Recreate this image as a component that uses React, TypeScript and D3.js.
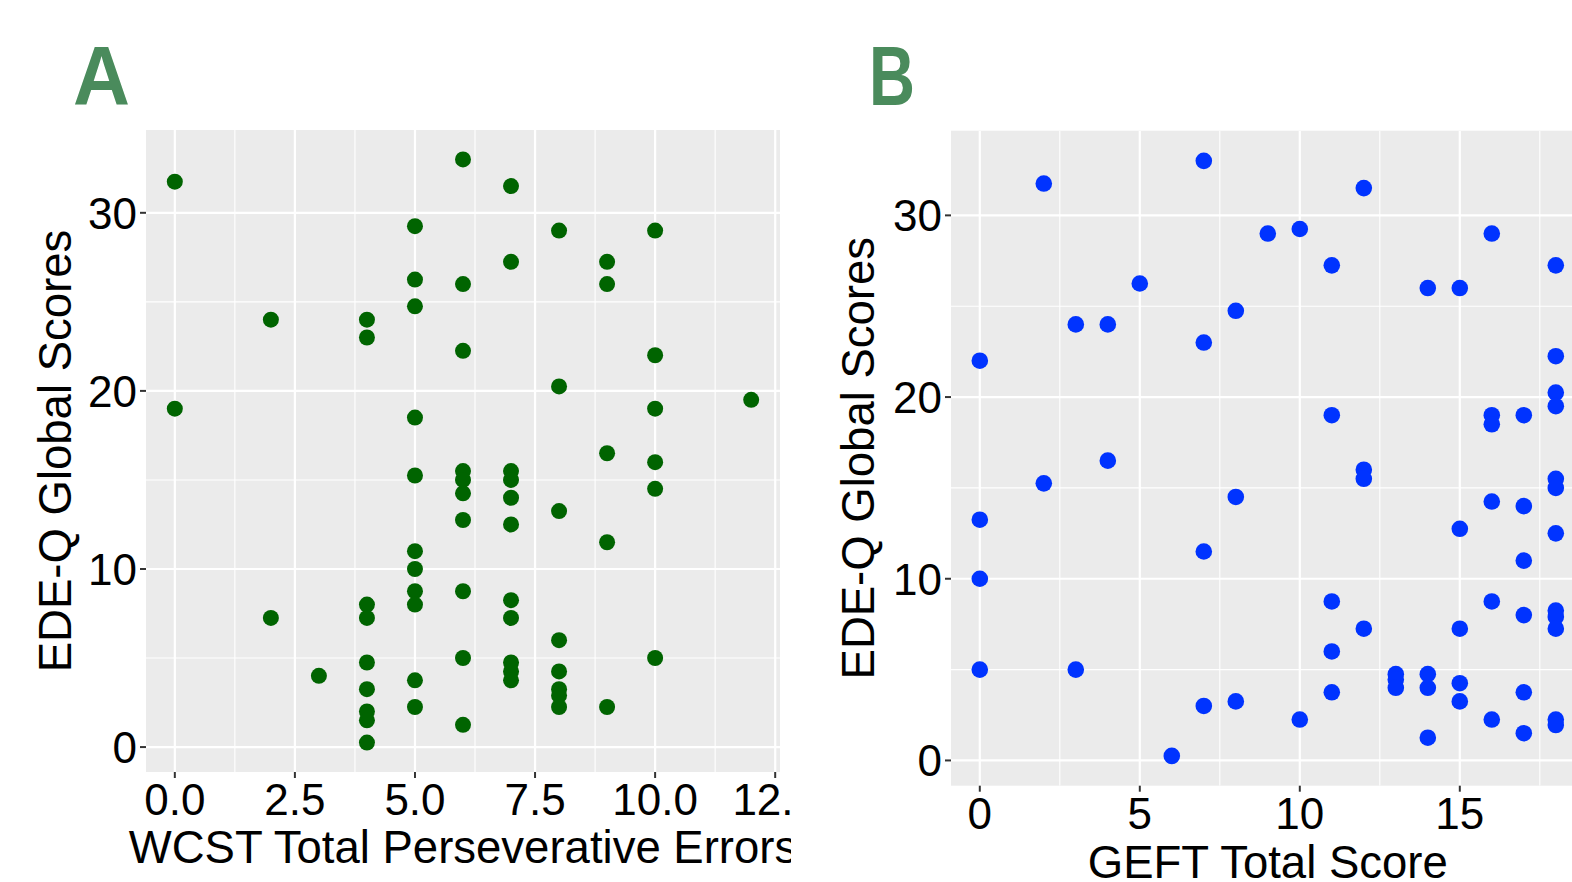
import React from "react";
import * as d3 from "d3";

// ---------- Data ----------
// Panel A: WCST Total Perseverative Errors vs EDE-Q Global Scores
const wcstErrors = [
  0, 0,
  2, 2,
  3,
  4, 4, 4, 4, 4, 4, 4, 4, 4,
  5, 5, 5, 5, 5, 5, 5, 5, 5, 5, 5,
  6, 6, 6, 6, 6, 6, 6, 6, 6, 6,
  7, 7, 7, 7, 7, 7, 7, 7, 7, 7, 7,
  8, 8, 8, 8, 8, 8, 8, 8,
  9, 9, 9, 9, 9,
  10, 10, 10, 10, 10, 10,
  12,
];
const edeScoresA = [
  31.75, 19.0,
  24.0, 7.25,
  4.0,
  24.0, 23.0, 8.0, 7.25, 4.75, 3.25, 2.0, 1.5, 0.25,
  29.25, 26.25, 24.75, 18.5, 15.25, 11.0, 10.0, 8.75, 8.0, 3.75, 2.25,
  33.0, 26.0, 22.25, 15.5, 15.0, 14.25, 12.75, 8.75, 5.0, 1.25,
  31.5, 27.25, 15.5, 15.0, 14.0, 12.5, 8.25, 7.25, 4.75, 4.25, 3.75,
  29.0, 20.25, 13.25, 6.0, 4.25, 3.25, 2.9, 2.25,
  27.25, 26.0, 16.5, 11.5, 2.25,
  29.0, 22.0, 19.0, 16.0, 14.5, 5.0,
  19.5,
];

// Panel B: GEFT Total Score vs EDE-Q Global Scores
const geftScores = [
  0, 0, 0, 0,
  2, 2,
  3, 3,
  4, 4,
  5,
  6,
  7, 7, 7, 7,
  8, 8, 8,
  9,
  10, 10,
  11, 11, 11, 11, 11,
  12, 12, 12, 12,
  13, 13, 13,
  14, 14, 14, 14,
  15, 15, 15, 15, 15,
  16, 16, 16, 16, 16, 16,
  17, 17, 17, 17, 17, 17,
  18, 18, 18, 18, 18, 18, 18, 18, 18, 18, 18, 18,
];
const edeScoresB = [
  22.0, 13.25, 10.0, 5.0,
  31.75, 15.25,
  24.0, 5.0,
  24.0, 16.5,
  26.25,
  0.25,
  33.0, 23.0, 11.5, 3.0,
  24.75, 14.5, 3.25,
  29.0,
  29.25, 2.25,
  27.25, 19.0, 8.75, 6.0, 3.75,
  31.5, 16.0, 15.5, 7.25,
  4.75, 4.45, 4.0,
  26.0, 4.75, 4.0, 1.25,
  26.0, 12.75, 7.25, 4.25, 3.25,
  29.0, 19.0, 18.5, 14.25, 8.75, 2.25,
  19.0, 14.0, 11.0, 8.0, 3.75, 1.5,
  27.25, 22.25, 20.25, 19.5, 15.5, 15.0, 12.5, 8.25, 7.9, 7.25, 2.25, 1.95,
];

const xTicksA = [0, 2.5, 5, 7.5, 10, 12.5];
const xTickLabelsA = ["0.0", "2.5", "5.0", "7.5", "10.0", "12.5"];
const xMinorA = [1.25, 3.75, 6.25, 8.75, 11.25];
const xTicksB = [0, 5, 10, 15];
const xTickLabelsB = ["0", "5", "10", "15"];
const xMinorB = [2.5, 7.5, 12.5, 17.5];
const yTicks = [0, 10, 20, 30];
const yTickLabels = ["0", "10", "20", "30"];
const yMinor = [5, 15, 25];

const FONT = "'Liberation Sans', Arial, Helvetica, sans-serif";

type PanelProps = {
  xs: number[];
  ys: number[];
  xDomain: [number, number];
  yDomain: [number, number];
  left: number;
  right: number;
  top: number;
  bottom: number;
  xTicks: number[];
  xTickLabels: string[];
  xMinor: number[];
  color: string;
  radius: number;
  xTitle: string;
  yTitleX: number;
  xTitleY: number;
  clipId: string;
  clipX0: number;
  clipX1: number;
};

function Panel(p: PanelProps) {
  const x = d3.scaleLinear().domain(p.xDomain).range([p.left, p.right]);
  const y = d3.scaleLinear().domain(p.yDomain).range([p.bottom, p.top]);
  const tickLen = 6;
  const cx = (p.left + p.right) / 2;
  const cy = (p.top + p.bottom) / 2;
  return (
    <g clipPath={`url(#${p.clipId})`}>
      <defs>
        <clipPath id={p.clipId}>
          <rect x={p.clipX0} y={0} width={p.clipX1 - p.clipX0} height={882} />
        </clipPath>
        <clipPath id={p.clipId + "-panel"}>
          <rect x={p.left} y={p.top} width={p.right - p.left} height={p.bottom - p.top} />
        </clipPath>
      </defs>
      <rect x={p.left} y={p.top} width={p.right - p.left} height={p.bottom - p.top} fill="#EBEBEB" />
      <g clipPath={`url(#${p.clipId}-panel)`}>
        {p.xMinor.map((t) => (
          <line key={"xm" + t} x1={x(t)} x2={x(t)} y1={p.top} y2={p.bottom} stroke="#fff" strokeWidth={1.1} />
        ))}
        {yMinor.map((t) => (
          <line key={"ym" + t} x1={p.left} x2={p.right} y1={y(t)} y2={y(t)} stroke="#fff" strokeWidth={1.1} />
        ))}
        {p.xTicks.map((t) => (
          <line key={"xM" + t} x1={x(t)} x2={x(t)} y1={p.top} y2={p.bottom} stroke="#fff" strokeWidth={2.2} />
        ))}
        {yTicks.map((t) => (
          <line key={"yM" + t} x1={p.left} x2={p.right} y1={y(t)} y2={y(t)} stroke="#fff" strokeWidth={2.2} />
        ))}
        {p.xs.map((xv, i) => (
          <circle key={"pt" + i} cx={x(xv)} cy={y(p.ys[i])} r={p.radius} fill={p.color} />
        ))}
      </g>
      {/* y axis ticks */}
      {yTicks.map((t, i) => (
        <g key={"yt" + t}>
          <line x1={p.left - tickLen} x2={p.left} y1={y(t)} y2={y(t)} stroke="#333" strokeWidth={2} />
          <text
            x={p.left - tickLen - 3}
            y={y(t)}
            dy="0.36em"
            textAnchor="end"
            fontFamily={FONT}
            fontSize={44}
            fill="#000"
          >
            {yTickLabels[i]}
          </text>
        </g>
      ))}
      {/* x axis ticks */}
      {p.xTicks.map((t, i) => (
        <g key={"xt" + t}>
          <line x1={x(t)} x2={x(t)} y1={p.bottom} y2={p.bottom + tickLen} stroke="#333" strokeWidth={2} />
          <text
            x={x(t)}
            y={p.bottom + tickLen + 37}
            textAnchor="middle"
            fontFamily={FONT}
            fontSize={44}
            fill="#000"
          >
            {p.xTickLabels[i]}
          </text>
        </g>
      ))}
      <text x={cx} y={p.xTitleY} textAnchor="middle" fontFamily={FONT} fontSize={45.5} fill="#000">
        {p.xTitle}
      </text>
      <text
        transform={`translate(${p.yTitleX},${cy}) rotate(-90)`}
        textAnchor="middle"
        fontFamily={FONT}
        fontSize={45.5}
        fill="#000"
      >
        EDE-Q Global Scores
      </text>
    </g>
  );
}

export default function App() {
  return (
    <svg
      width={1572}
      height={882}
      viewBox="0 0 1572 882"
      style={{ position: "absolute", left: 0, top: 0, background: "#fff" }}
    >
      <rect x={0} y={0} width={1572} height={882} fill="#fff" />
      <Panel
        xs={wcstErrors}
        ys={edeScoresA}
        xDomain={[-0.6, 12.6]}
        yDomain={[-1.4, 34.65]}
        left={146}
        right={780}
        top={130}
        bottom={772}
        xTicks={xTicksA}
        xTickLabels={xTickLabelsA}
        xMinor={xMinorA}
        color="#006400"
        radius={8}
        xTitle="WCST Total Perseverative Errors"
        yTitleX={71}
        xTitleY={863}
        clipId="clipA"
        clipX0={0}
        clipX1={791}
      />
      <Panel
        xs={geftScores}
        ys={edeScoresB}
        xDomain={[-0.9, 18.9]}
        yDomain={[-1.39, 34.66]}
        left={951}
        right={1584.6}
        top={130.7}
        bottom={785.7}
        xTicks={xTicksB}
        xTickLabels={xTickLabelsB}
        xMinor={xMinorB}
        color="#0033FF"
        radius={8.3}
        xTitle="GEFT Total Score"
        yTitleX={874}
        xTitleY={878}
        clipId="clipB"
        clipX0={795}
        clipX1={1572}
      />
      <text x={73} y={105} fontFamily={FONT} fontWeight="bold" fontSize={84} fill="#4A8B5C" textLength={57} lengthAdjust="spacingAndGlyphs">
        A
      </text>
      <text x={869} y={105} fontFamily={FONT} fontWeight="bold" fontSize={84} fill="#4A8B5C" textLength={46} lengthAdjust="spacingAndGlyphs">
        B
      </text>
    </svg>
  );
}
